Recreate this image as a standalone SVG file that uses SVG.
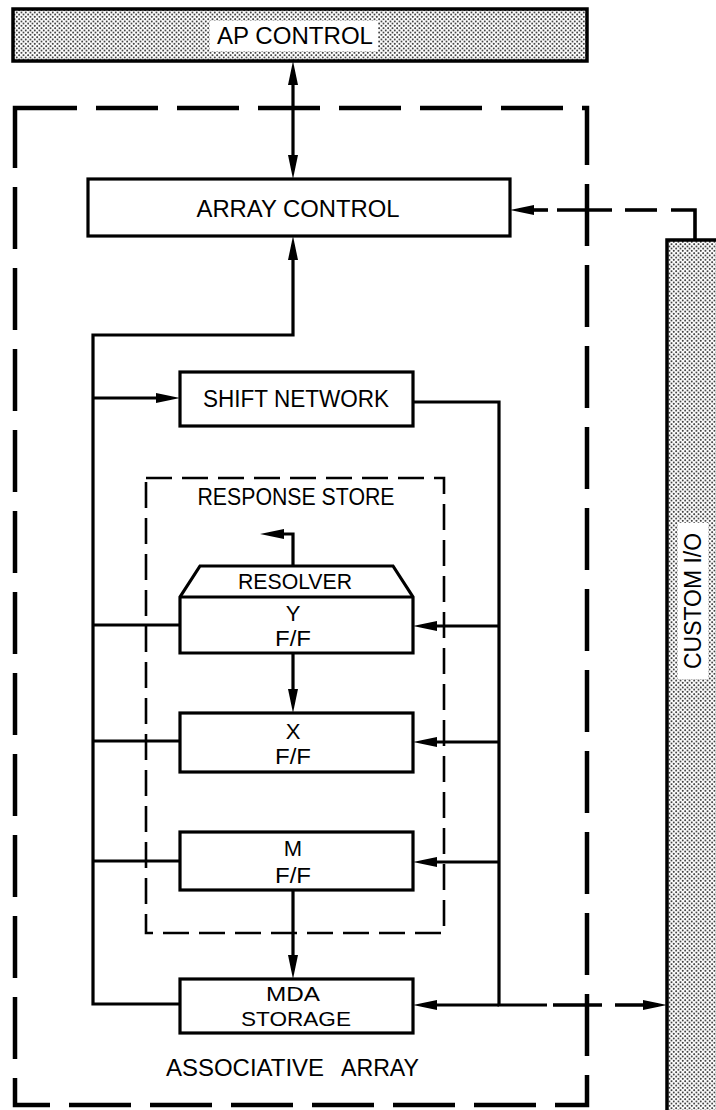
<svg xmlns="http://www.w3.org/2000/svg" width="716" height="1110" viewBox="0 0 716 1110">
<style>
  .bx{fill:#fff;stroke:#000;stroke-width:3.2}
  .st{fill:url(#stip);stroke:#000;stroke-width:3.5}
  .ln{fill:none;stroke:#000;stroke-width:3.2}
  .dash-outer{fill:none;stroke:#000;stroke-width:4.5;stroke-dasharray:62 19}
  .dash-rs{fill:none;stroke:#000;stroke-width:2.6;stroke-dasharray:26 10}
  .dc{fill:none;stroke:#000;stroke-width:3.6}
  .t{font-family:"Liberation Sans",Arial,sans-serif;font-size:22px;fill:#000;text-anchor:middle}
  .ts{font-family:"Liberation Sans",Arial,sans-serif;font-size:20px;fill:#000;text-anchor:middle}
  .tl{font-family:"Liberation Sans",Arial,sans-serif;font-size:23px;fill:#000;text-anchor:middle}
  .arr{marker-end:url(#ah)}
</style>
<defs>
  <pattern id="stip" width="4.5" height="4.5" patternUnits="userSpaceOnUse">
    <rect width="4.5" height="4.5" fill="#fff"/>
    <circle cx="1.1" cy="1.1" r="0.85" fill="#000"/>
    <circle cx="3.35" cy="3.35" r="0.85" fill="#000"/>
  </pattern>
  <marker id="ah" viewBox="0 0 24 11" refX="15" refY="5.5" markerWidth="24" markerHeight="11" markerUnits="userSpaceOnUse" orient="auto-start-reverse">
    <path d="M0,0.5 L24,5.5 L0,10.5 Z" fill="#000"/>
  </marker>
</defs>

<rect width="716" height="1110" fill="#fff"/>

<g id="associative-array">
  <rect class="dash-outer" x="15" y="108" width="572" height="997"/>
  <text class="tl" x="166" y="1076" style="text-anchor:start" textLength="158" lengthAdjust="spacingAndGlyphs">ASSOCIATIVE</text>
  <text class="tl" x="341" y="1076" style="text-anchor:start" textLength="78" lengthAdjust="spacingAndGlyphs">ARRAY</text>
</g>

<g id="response-store">
  <rect class="dash-rs" x="146" y="478" width="298" height="455"/>
  <text class="tl" x="296" y="505" textLength="197" lengthAdjust="spacingAndGlyphs">RESPONSE STORE</text>
</g>

<g id="ap-control">
  <rect class="st" x="13" y="9" width="574" height="52"/>
  <rect x="210" y="21" width="168" height="30" fill="#fff"/>
  <text class="tl" x="295" y="44" textLength="156" lengthAdjust="spacingAndGlyphs">AP CONTROL</text>
</g>

<g id="custom-io">
  <rect class="st" x="667" y="240" width="60" height="880"/>
  <rect x="678" y="523" width="30" height="156" fill="#fff"/>
  <text class="tl" transform="translate(701,601) rotate(-90)" textLength="136" lengthAdjust="spacingAndGlyphs">CUSTOM I/O</text>
</g>

<g id="array-control">
  <rect class="bx" x="88" y="179" width="422" height="57"/>
  <text class="tl" x="298" y="217" textLength="203" lengthAdjust="spacingAndGlyphs">ARRAY CONTROL</text>
</g>

<g id="shift-network">
  <rect class="bx" x="180" y="372" width="233" height="54"/>
  <text class="tl" x="296" y="407" textLength="186" lengthAdjust="spacingAndGlyphs">SHIFT NETWORK</text>
</g>

<g id="resolver-y-ff">
  <path class="bx" d="M180,653 V597 L200,566 H393 L413,597 V653 Z"/>
  <line class="ln" x1="180" y1="597" x2="413" y2="597"/>
  <text class="t" x="295" y="589" textLength="114" lengthAdjust="spacingAndGlyphs">RESOLVER</text>
  <text class="t" x="293" y="621">Y</text>
  <text class="t" x="293" y="646" textLength="36" lengthAdjust="spacingAndGlyphs">F/F</text>
</g>

<g id="x-ff">
  <rect class="bx" x="180" y="713" width="233" height="59"/>
  <text class="t" x="293" y="739">X</text>
  <text class="t" x="293" y="764" textLength="36" lengthAdjust="spacingAndGlyphs">F/F</text>
</g>

<g id="m-ff">
  <rect class="bx" x="180" y="832" width="233" height="58"/>
  <text class="t" x="293" y="856">M</text>
  <text class="t" x="293" y="883" textLength="36" lengthAdjust="spacingAndGlyphs">F/F</text>
</g>

<g id="mda-storage">
  <rect class="bx" x="180" y="979" width="233" height="54"/>
  <text class="ts" x="293" y="1001" textLength="54" lengthAdjust="spacingAndGlyphs">MDA</text>
  <text class="ts" x="296" y="1026" textLength="110" lengthAdjust="spacingAndGlyphs">STORAGE</text>
</g>

<g id="connectors">
  <path class="ln" d="M293,70 V170" style="marker-start:url(#ah);marker-end:url(#ah)"/>
  <path class="ln" d="M293,245 V335 H93 V1004 H180" style="marker-start:url(#ah)"/>
  <path class="ln arr" d="M93,398 H171"/>
  <path class="ln" d="M93,625 H180"/>
  <path class="ln" d="M93,741 H180"/>
  <path class="ln" d="M93,861 H180"/>
  <path class="ln" d="M413,402 H499 V1005 H547"/>
  <path class="ln arr" d="M499,626 H422"/>
  <path class="ln arr" d="M499,742 H422"/>
  <path class="ln arr" d="M499,862 H422"/>
  <path class="ln arr" d="M499,1005 H422"/>
  <path class="ln arr" d="M293,653 V704"/>
  <path class="ln arr" d="M293,890 V970"/>
  <path class="ln arr" d="M293,566 V534 H269"/>
  <path class="dc" d="M695,240 V210 H671"/>
  <path class="dc" d="M657,210 H625"/>
  <path class="dc" d="M612,210 H557"/>
  <path class="dc arr" d="M548,210 H519"/>
  <path class="dc" d="M553,1005 H602"/>
  <path class="dc arr" d="M615,1005 H658"/>
</g>
</svg>
